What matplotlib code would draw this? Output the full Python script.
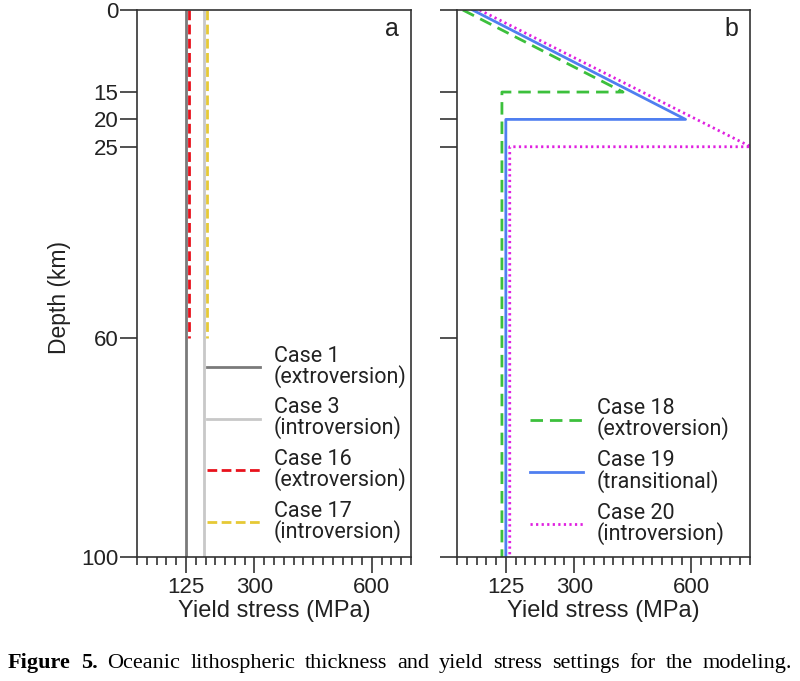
import numpy as np
import matplotlib
matplotlib.use("Agg")
from matplotlib import pyplot as plt
from matplotlib.ticker import MultipleLocator

# panel a: constant yield stress, two lithosphere thicknesses
a_cases = ["Case 1\n(extroversion)", "Case 3\n(introversion)",
           "Case 16\n(extroversion)", "Case 17\n(introversion)"]
a_stress = [125, 170, 132, 178]
a_depth_top = [0, 0, 0, 0]
a_depth_bot = [100, 100, 60, 60]

# panel b: brittle layer over constant yield stress
b_cases = ["Case 18\n(extroversion)", "Case 19\n(transitional)", "Case 20\n(introversion)"]
b_stress = [[15, 425, 115, 115],
            [40, 585, 125, 125],
            [58, 752, 135, 135]]
b_depth = [[0, 15, 15, 100],
           [0, 20, 20, 100],
           [0, 25, 25, 100]]

y_ticks = [0, 15, 20, 25, 60, 100]
x_ticks = [125, 300, 600]

W, H = 800, 681
plt.rcParams['font.family'] = ['Liberation Sans', 'DejaVu Sans']
fig = plt.figure(figsize=(W / 100, H / 100), dpi=100)

ax_a = fig.add_axes([137 / W, 1 - 557 / H, 274 / W, 547 / H])
ax_b = fig.add_axes([457 / W, 1 - 557 / H, 293 / W, 547 / H])

a_styles = [dict(color="#7a7a7a", ls="-"),
            dict(color="#c8c8c8", ls="-"),
            dict(color="#e8121c", ls=(0, (3.5, 1.6))),
            dict(color="#e6c935", ls=(0, (3.5, 1.6)))]
for lab, x, d0, d1, st in zip(a_cases, a_stress, a_depth_top, a_depth_bot, a_styles):
    ax_a.plot([x, x], [d0, d1], lw=2.0, label=lab, **st)

b_styles = [dict(color="#3cc03c", ls=(0, (4.5, 2.5))),
            dict(color="#4f7ff0", ls="-"),
            dict(color="#e020e0", ls=(0, (0.8, 1.2)))]
for lab, xs, ds, st in zip(b_cases, b_stress, b_depth, b_styles):
    ax_b.plot(xs, ds, lw=2.0, label=lab, **st)

for ax, xmax in [(ax_a, 700), (ax_b, 750)]:
    ax.set_xlim(0, xmax)
    ax.set_ylim(100, 0)
    ax.set_yticks(y_ticks)
    ax.set_xticks(x_ticks)
    ax.xaxis.set_minor_locator(MultipleLocator(25))
    ax.tick_params(axis="y", direction="out", length=12, width=1.1, pad=1.5,
                   labelsize=16, colors="#222222")
    ax.tick_params(axis="x", which="major", direction="out", length=11.5,
                   width=1.1, labelsize=16, pad=3, colors="#222222")
    ax.tick_params(axis="x", which="minor", direction="out", length=5.8,
                   width=1.1, colors="#222222")
    for sp in ax.spines.values():
        sp.set_linewidth(1.2)
        sp.set_color("#333333")
    ax.set_xlabel("Yield stress (MPa)", fontsize=17, labelpad=1.5, color="#222222")

ax_a.set_ylabel("Depth (km)", fontsize=16.5, color="#222222")
ax_a.yaxis.set_label_coords(-0.24, 0.475)
ax_b.set_yticklabels([])

ax_a.text(0.93, 0.965, "a", transform=ax_a.transAxes, fontsize=18,
          ha="center", va="center", color="#222222")
ax_b.text(0.935, 0.965, "b", transform=ax_b.transAxes, fontsize=18,
          ha="center", va="center", color="#222222")

leg_font = dict(family="Roboto", size=15.5)
leg_kw = dict(loc="lower right", frameon=False, prop=leg_font, handlelength=2.45,
              handletextpad=0.65, borderpad=0, borderaxespad=0)
leg_a = ax_a.legend(bbox_to_anchor=(0.985, 0.026), labelspacing=0.44, **leg_kw)
leg_b = ax_b.legend(bbox_to_anchor=(0.93, 0.022), labelspacing=0.47, **leg_kw)
for leg in (leg_a, leg_b):
    for t in leg.get_texts():
        t.set_linespacing(0.9)
        t.set_color("#222222")

# justified caption along the bottom
caption = ("Figure 5. Oceanic lithospheric thickness and yield stress "
           "settings for the modeling.")
words = caption.split()
x0, x1, y_base = 8, 792, 668
fig.canvas.draw()
renderer = fig.canvas.get_renderer()
cap_texts = []
for i, w in enumerate(words):
    weight = "bold" if i < 2 else "normal"
    cap_texts.append(fig.text(0, 1 - y_base / H, w, fontsize=16,
                              family=["Liberation Serif", "DejaVu Serif"],
                              weight=weight, va="baseline", ha="left"))
widths = [t.get_window_extent(renderer).width for t in cap_texts]
gap = (x1 - x0 - sum(widths)) / (len(words) - 1)
x = x0
for t, w in zip(cap_texts, widths):
    t.set_x(x / W)
    x += w + gap

fig.savefig("out.png", dpi=100)
